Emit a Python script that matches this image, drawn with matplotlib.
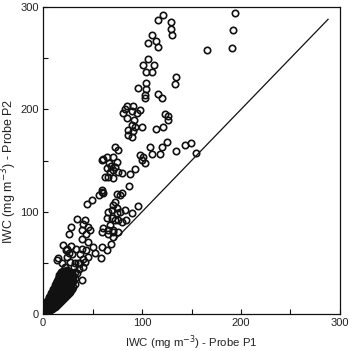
import matplotlib
matplotlib.use("Agg")
import matplotlib.pyplot as plt
from matplotlib.ticker import MultipleLocator

plt.rcParams['font.family'] = ['Liberation Sans', 'DejaVu Sans']

# --- scattered points (outer cloud) ---
x_outer = [120.9, 116.5, 129.3, 129.0, 130.6, 109.8, 114.1, 106.4, 115.9, 166.0,
           194.0, 192.3, 190.6,
           106.4, 101.3, 112.4, 104.0, 110.4, 134.3, 133.3, 104.0, 95.6, 104.0, 103.0,
           103.0, 115.9, 119.9, 85.2, 90.6, 98.0, 82.8, 81.1, 89.6, 94.6, 84.5, 91.9,
           89.6, 92.9, 86.2, 91.0, 99.7, 123.2, 126.5, 126.0, 113.8, 121.5, 86.0, 89.6,
           98.0, 101.3, 99.7, 103.5, 108.0, 109.8, 118.2, 119.9, 124.9, 134.3, 143.4,
           149.2, 154.5, 92.9, 87.9, 87.2, 96.3, 89.6, 83.8, 82.8, 79.5,
           61.0, 64.3, 67.0, 72.7, 76.0, 71.0, 74.4, 64.3, 67.7, 71.0, 76.0, 79.5,
           66.0, 71.0, 62.6, 59.3, 69.0, 73.0,
           72.7, 71.0, 74.4, 69.4, 74.4, 66.0, 77.8, 64.3, 69.4, 72.7, 76.0, 67.7,
           61.0, 66.0, 71.0, 59.3, 71.0, 76.0, 79.5, 59.3, 61.0, 75.0, 78.0,
           44.1, 49.2, 56.2, 59.3, 34.7, 42.4, 40.7, 45.8, 39.0, 47.5, 43.4, 27.9,
           26.6, 39.7, 45.1, 50.8, 52.5, 45.8, 37.4, 33.3, 39.0, 43.4, 20.5, 23.5,
           29.0, 23.9, 32.3, 27.3, 35.7, 42.4, 13.8, 18.9, 22.2, 40.7, 59.6, 58.6,
           64.3, 68.7, 71.0, 66.0, 37.4, 40.7, 34.0, 39.0, 15.5, 24.0, 28.0, 26.0,
           36.0, 31.0, 30.0]
y_outer = [292.3, 287.4, 285.0, 278.6, 272.7, 272.7, 267.2, 265.2, 261.3, 257.8,
           294.0, 278.0, 260.0,
           249.3, 243.4, 243.4, 236.9, 236.9, 232.0, 224.8, 225.5, 220.6, 219.6, 214.0,
           210.8, 215.0, 210.8, 203.3, 203.3, 199.4, 200.0, 196.2, 198.4, 196.2, 191.3,
           189.6, 184.8, 183.1, 179.9, 179.0, 182.5, 195.2, 193.6, 189.6, 180.8, 182.5,
           175.0, 173.0,
           155.4, 153.7, 150.4, 148.0, 163.5, 156.4, 156.4, 163.5, 168.4, 159.3, 165.2,
           166.8, 157.7, 141.4, 136.6, 125.1, 105.6, 99.0, 91.9, 101.7, 118.0,
           152.0, 153.8, 147.3, 163.5, 160.3, 153.8, 148.9, 142.4, 139.1, 140.8, 139.1,
           137.5, 134.2, 132.6, 134.2, 150.5, 145.0, 144.0,
           109.8, 106.5, 103.3, 101.7, 98.4, 100.0, 100.0, 93.5, 93.5, 91.9, 91.9, 87.0,
           83.8, 82.1, 80.4, 80.4, 75.6, 80.4, 90.2, 121.2, 118.0, 117.8, 116.0,
           107.9, 111.9, 116.2, 119.4, 92.7, 91.8, 88.5, 85.3, 82.0, 82.0, 78.7, 85.3,
           78.7, 73.2, 70.0, 65.7, 60.2, 56.0, 59.2, 64.1, 64.1, 62.5, 68.0, 63.1,
           59.2, 56.0, 49.5, 51.1, 49.5, 51.1, 52.7, 49.5, 46.2, 54.3, 65.1, 55.3,
           62.5, 68.3, 82.0, 78.7, 49.6, 46.2, 39.8, 33.2, 54.4, 64.0, 67.0, 60.0,
           44.0, 46.0, 36.0]

# --- dense cluster near the origin ---
x_dense = ([3] * 4 + [4] * 6 + [5] * 6 + [6] * 7 + [7] * 8 + [8] * 9 + [9] * 9 +
           [10] * 10 + [11] * 9 + [12] * 10 + [13] * 10 + [14] * 10 + [15] * 10 +
           [16] * 11 + [17] * 10 + [18] * 10 + [19] * 9 + [20] * 9 + [21] * 8 +
           [22] * 8 + [23] * 7 + [24] * 7 + [25] * 6 + [26] * 5 + [27] * 5 + [28] * 4 +
           [29] * 4 + [30] * 3 + [32] * 3)
y_dense = ([4, 6, 8, 10] +
           [3, 5, 7, 9, 11, 13] +
           [4, 6, 8, 10, 12, 14] +
           [4, 7, 9, 11, 13, 15, 17] +
           [4, 6, 8, 10, 12, 14, 16, 18] +
           [5, 7, 9, 11, 13, 15, 17, 19, 21] +
           [5, 8, 10, 12, 14, 16, 18, 20, 22] +
           [6, 8, 11, 13, 15, 17, 19, 21, 23, 25] +
           [7, 9, 12, 14, 16, 18, 20, 22, 24] +
           [7, 10, 13, 15, 17, 19, 21, 23, 26, 28] +
           [8, 11, 14, 16, 18, 20, 22, 25, 27, 30] +
           [9, 12, 15, 17, 19, 21, 24, 26, 29, 32] +
           [10, 13, 16, 18, 20, 23, 25, 28, 31, 34] +
           [11, 14, 17, 19, 22, 24, 27, 30, 33, 36, 38] +
           [12, 15, 18, 21, 23, 26, 29, 32, 35, 39] +
           [13, 16, 19, 22, 25, 28, 31, 34, 37, 41] +
           [14, 17, 20, 24, 27, 30, 33, 36, 40] +
           [15, 18, 21, 25, 28, 31, 35, 38, 42] +
           [16, 19, 23, 26, 30, 33, 37, 40] +
           [17, 20, 24, 28, 31, 35, 38, 42] +
           [18, 22, 26, 29, 33, 36, 40] +
           [19, 23, 27, 31, 34, 38, 43] +
           [20, 24, 28, 32, 36, 40] +
           [21, 26, 30, 34, 38] +
           [22, 27, 31, 36, 41] +
           [24, 29, 33, 38] +
           [25, 30, 35, 40] +
           [27, 32, 37] +
           [29, 35, 41])

# 1:1 reference line
line_x = [73, 288]
line_y = [73, 288]

x_ticks = [0, 100, 200, 300]
y_ticks = [0, 100, 200, 300]

fig = plt.figure(figsize=(3.53, 3.51), dpi=100)
ax = fig.add_axes([0.122, 0.105, 0.841, 0.875])

ink = '#111111'
ax.plot(x_dense, y_dense, linestyle='none', marker='o', ms=4.6, mfc='none',
        mec=ink, mew=1.2)
ax.plot(x_outer, y_outer, linestyle='none', marker='o', ms=4.6, mfc='none',
        mec=ink, mew=1.2)
ax.plot(line_x, line_y, color=ink, lw=0.9)

ax.set_xlim(0, 300)
ax.set_ylim(0, 300)
ax.set_xticks(x_ticks)
ax.set_yticks(y_ticks)
ax.xaxis.set_minor_locator(MultipleLocator(50))
ax.yaxis.set_minor_locator(MultipleLocator(50))
ax.tick_params(which='both', direction='in', length=3.5, width=0.8, colors=ink,
               labelsize=8, top=False, right=False, pad=3)
ax.tick_params(axis='both', labelcolor='#222222')
for sp in ax.spines.values():
    sp.set_linewidth(0.9)
    sp.set_color(ink)

ax.set_xlabel('IWC (mg m$^{-3}$) - Probe P1', fontsize=8.2, color='#222222')
ax.set_ylabel('IWC (mg m$^{-3}$) - Probe P2', fontsize=9.0, color='#222222')
ax.xaxis.set_label_coords(0.5, -0.062)
ax.yaxis.set_label_coords(-0.08, 0.466)

fig.savefig('out.png', dpi=100)
